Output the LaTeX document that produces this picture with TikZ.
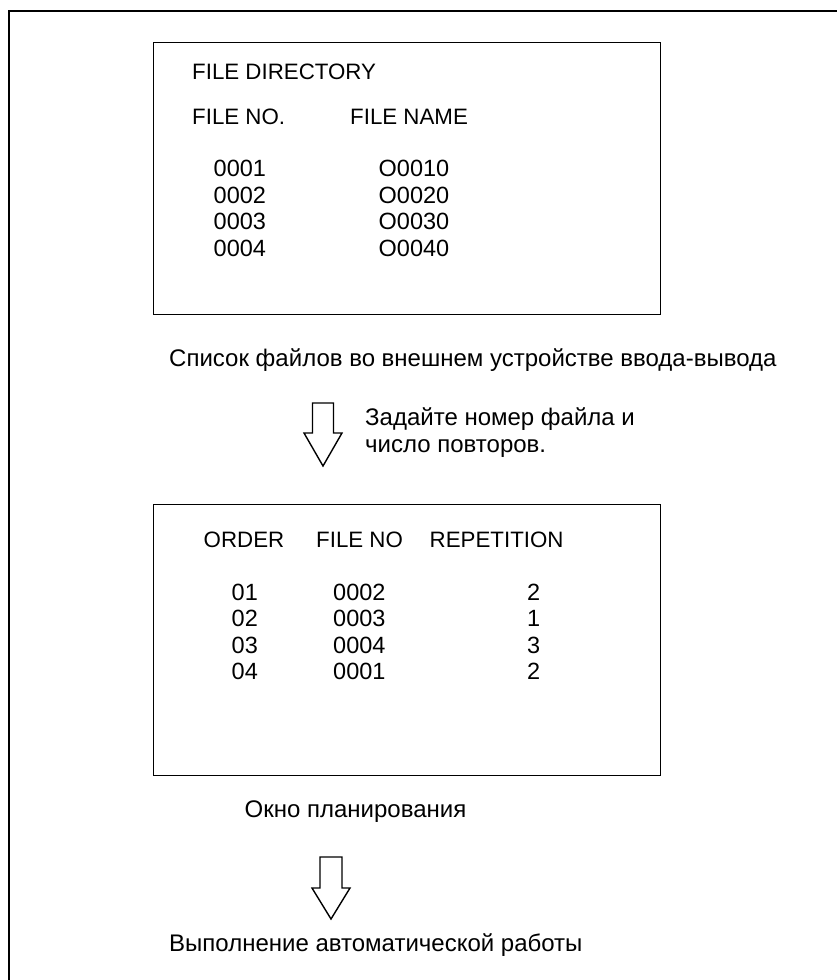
\documentclass[tikz,border=0pt]{standalone}
\usepackage{fontspec}
\setmainfont{Liberation Sans}
\begin{document}
\begin{tikzpicture}[x=1pt,y=-1pt,
  frame/.style={draw=black,line width=1.4pt},
  screen/.style={draw=black,line width=1.4pt},
  hdr/.style={anchor=base west,inner sep=0pt,font=\fontsize{22.3}{26}\selectfont},
  txt/.style={anchor=base west,inner sep=0pt,font=\fontsize{23.5}{28}\selectfont},
  captxt/.style={anchor=base west,inner sep=0pt,font=\fontsize{24}{28}\selectfont},
  blockarrow/.style={draw=black,line width=1.4pt,fill=white,line join=miter}]
\useasboundingbox (0,0) rectangle (837,980);
% outer frame (open at right and bottom)
\coordinate (fbl) at (9,980);
\coordinate (ftl) at (9,11);
\coordinate (ftr) at (837,11);
\draw[frame] (fbl) -- (ftl) -- (ftr);
% file directory screen
\node[screen,minimum width=507pt,minimum height=272pt,anchor=north west,inner sep=0pt] (dir) at (152.5,42) {};
\node[hdr] (dtitle) at (192,79.5) {FILE DIRECTORY};
\node[hdr] (dno) at (192,124) {FILE NO.};
\node[hdr] (dname) at (350,124) {FILE NAME};
\node[txt] (n1) at (213.5,176.5) {0001};
\node[txt] (n2) at (213.5,203) {0002};
\node[txt] (n3) at (213.5,229.5) {0003};
\node[txt] (n4) at (213.5,256) {0004};
\node[txt] (o1) at (378.5,176.5) {O0010};
\node[txt] (o2) at (378.5,203) {O0020};
\node[txt] (o3) at (378.5,229.5) {O0030};
\node[txt] (o4) at (378.5,256) {O0040};
\node[captxt] (cap1) at (169,366) {Список файлов во внешнем устройстве ввода-вывода};
% arrow 1
\draw[blockarrow] (312.5,403) -- (333.5,403) -- (333.5,433) -- (342,433) -- (323,466) -- (304,433) -- (312.5,433) -- cycle;
\node[captxt] (hint1) at (365,425.5) {Задайте номер файла и};
\node[captxt] (hint2) at (365,452) {число повторов.};
% schedule screen
\node[screen,minimum width=507pt,minimum height=271.5pt,anchor=north west,inner sep=0pt] (sched) at (152.5,503.5) {};
\node[hdr] (hord) at (203.5,547) {ORDER};
\node[hdr] (hfile) at (316,547) {FILE NO};
\node[hdr] (hrep) at (429.5,547) {REPETITION};
\node[txt] (r1a) at (231.5,600) {01};
\node[txt] (r2a) at (231.5,626.5) {02};
\node[txt] (r3a) at (231.5,653) {03};
\node[txt] (r4a) at (231.5,679.5) {04};
\node[txt] (r1b) at (333,600) {0002};
\node[txt] (r2b) at (333,626.5) {0003};
\node[txt] (r3b) at (333,653) {0004};
\node[txt] (r4b) at (333,679.5) {0001};
\node[txt] (r1c) at (527,600) {2};
\node[txt] (r2c) at (527,626.5) {1};
\node[txt] (r3c) at (527,653) {3};
\node[txt] (r4c) at (527,679.5) {2};
\node[captxt] (cap2) at (244.5,817) {Окно планирования};
% arrow 2
\draw[blockarrow] (320,857) -- (342,857) -- (342,888) -- (350,888) -- (331,919) -- (312,888) -- (320,888) -- cycle;
\node[captxt] (cap3) at (169,951.5) {Выполнение автоматической работы};
\end{tikzpicture}
\end{document}
